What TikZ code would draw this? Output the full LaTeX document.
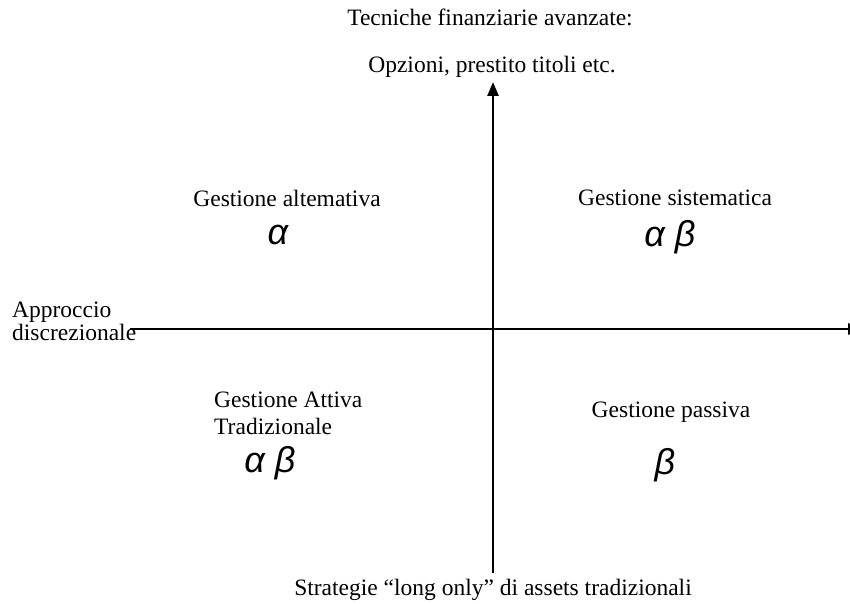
\documentclass[tikz,border=0pt]{standalone}
\usepackage{fontspec}
\setmainfont{Liberation Serif}
\newfontfamily\grk{Liberation Sans}
\usetikzlibrary{positioning,arrows.meta}

\begin{document}
\begin{tikzpicture}[x=1pt, y=1pt,
    axis/.style={line width=2.6pt, -{Triangle[length=14pt, width=11pt]}},
    lbl/.style={inner sep=0pt, font=\fontsize{23.5}{23}\selectfont},
    grek/.style={inner sep=0pt, font=\fontsize{36}{36}\selectfont\grk\itshape}
]
    \useasboundingbox (0,0) rectangle (850,603);

    % axes
    \coordinate (xstart) at (130,274);
    \coordinate (xend) at (862,274);
    \coordinate (ystart) at (493,30);
    \coordinate (yend) at (493,521);
    \draw[axis] (xstart) -- (xend);
    \draw[axis] (ystart) -- (yend);

    % axis labels
    \node[lbl] (toptitle) at (490,586) {Tecniche finanziarie avanzate:};
    \node[lbl] (topsub) at (492,536) {Opzioni, prestito titoli etc.};
    \node[lbl, anchor=west, align=left] (leftlbl) at (12,282) {Approccio\\discrezionale};
    \node[lbl] (bottomlbl) at (493,13) {Strategie ``long only'' di assets tradizionali};

    % quadrants
    \node[lbl] (altlbl) at (287,405) {Gestione altemativa};
    \node[grek] (altsym) at (278,368) {α};
    \node[lbl] (sislbl) at (675,405) {Gestione sistematica};
    \node[grek] (sissym) at (670,366) {α β};
    \node[lbl, anchor=west, align=left] (attlbl) at (214,190) {Gestione Attiva\\[4pt]Tradizionale};
    \node[grek] (attsym) at (270,140) {α β};
    \node[lbl] (paslbl) at (671,191) {Gestione passiva};
    \node[grek] (passym) at (665,138) {β};
\end{tikzpicture}
\end{document}
